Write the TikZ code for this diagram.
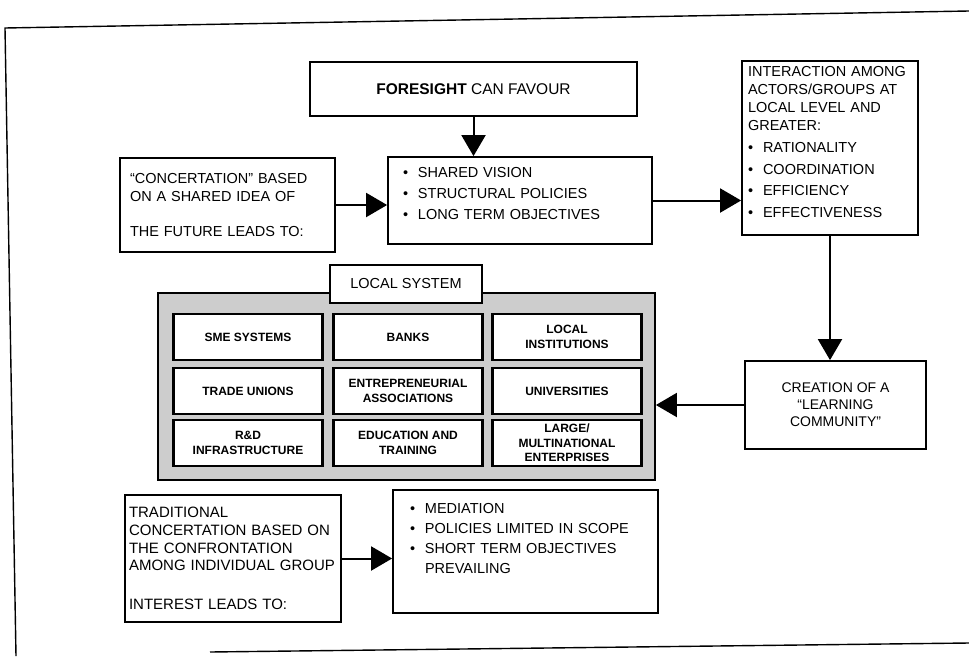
\documentclass[tikz,border=0pt]{standalone}
\usepackage{fontspec}
\setmainfont{Liberation Sans}
\usetikzlibrary{arrows.meta}
\definecolor{LocalGray}{RGB}{205,205,205}
\newcommand{\bitem}{\makebox[15pt][l]{\textbullet}}

\begin{document}
\begin{tikzpicture}[x=1pt, y=-1pt]
  \tikzstyle{box}=[draw, line width=1.8pt, fill=white, inner sep=0pt, font=\fontsize{14.5}{18}\selectfont];
  \tikzstyle{unit}=[draw, line width=2.6pt, fill=white, inner sep=0pt, minimum width=149pt, minimum height=46pt, align=center, font=\fontsize{12}{14.5}\selectfont\bfseries];
  \tikzstyle{arr}=[line width=2pt, -{Triangle[length=21pt, width=24pt]}];
  \tikzstyle{frame}=[line width=1.4pt];

  \useasboundingbox (0,0) rectangle (969,656);

  % page frame
  \draw[frame] (16,656) -- (5,28) -- (969,11);
  \draw[frame] (210,652) -- (969,643);

  \node[box, minimum width=327pt, minimum height=54pt, font=\fontsize{15.5}{18}\selectfont] (foresight) at (473.5,89) {\textbf{FORESIGHT} CAN FAVOUR};

  \node[box, minimum width=215pt, minimum height=94pt, inner xsep=10pt, text width=195pt, align=left, font=\fontsize{14.5}{17.5}\selectfont] (concert) at (227.5,205)
    {``CONCERTATION'' BASED\\ON A SHARED IDEA OF\\[17.5pt]THE FUTURE LEADS TO:};

  \node[box, minimum width=264pt, minimum height=87pt, inner xsep=15pt, text width=234pt, align=left, font=\fontsize{14.5}{21}\selectfont] (vision) at (520,200.5)
    {\bitem SHARED VISION\\\bitem STRUCTURAL POLICIES\\\bitem LONG TERM OBJECTIVES\rule[-14pt]{0pt}{0pt}};

  \node[box, minimum width=176pt, minimum height=174pt, inner xsep=6pt, text width=164pt, align=left] (interact) at (830,148)
    {INTERACTION AMONG\\ACTORS/GROUPS AT\\LOCAL LEVEL AND\\GREATER:\\[4pt]\bitem RATIONALITY\\[3.5pt]\bitem COORDINATION\\[3.5pt]\bitem EFFICIENCY\\[3.5pt]\bitem EFFECTIVENESS\rule[-12pt]{0pt}{0pt}};

  \node[box, minimum width=181pt, minimum height=88pt, align=center, font=\fontsize{14}{17}\selectfont] (learning) at (835.5,405)
    {CREATION OF A\\``LEARNING\\COMMUNITY''};

  % local system
  \node[draw, line width=1.8pt, fill=LocalGray, minimum width=497pt, minimum height=187pt] (local) at (406.5,386.5) {};
  \node[box, minimum width=152pt, minimum height=38pt] (localtitle) at (406,284) {LOCAL SYSTEM};

  \node[unit] (sme) at (248,337) {SME SYSTEMS};
  \node[unit] (banks) at (408,337) {BANKS};
  \node[unit] (instit) at (567,337) {LOCAL\\INSTITUTIONS};
  \node[unit] (unions) at (248,391) {TRADE UNIONS};
  \node[unit] (assoc) at (408,391) {ENTREPRENEURIAL\\ASSOCIATIONS};
  \node[unit] (univ) at (567,391) {UNIVERSITIES};
  \node[unit] (rnd) at (248,443) {R\&D\\INFRASTRUCTURE};
  \node[unit] (educ) at (408,443) {EDUCATION AND\\TRAINING};
  \node[unit] (large) at (567,443) {LARGE/\\MULTINATIONAL\\ENTERPRISES};

  \node[box, minimum width=216pt, minimum height=127pt, inner xsep=4pt, text width=208pt, align=left, font=\fontsize{15}{17.7}\selectfont] (tradit) at (233,558.5)
    {TRADITIONAL\\CONCERTATION BASED ON\\THE CONFRONTATION\\AMONG INDIVIDUAL GROUP\\[21pt]INTEREST LEADS TO:};

  \node[box, minimum width=265pt, minimum height=123pt, inner xsep=17pt, text width=231pt, align=left, font=\fontsize{14.5}{20}\selectfont] (mediation) at (525.5,551.5)
    {\bitem MEDIATION\\\bitem POLICIES LIMITED IN SCOPE\\\bitem SHORT TERM OBJECTIVES\\\hspace*{15pt}PREVAILING\rule[-26pt]{0pt}{0pt}};

  % connectors
  \draw[arr] (foresight.south) -- (foresight.south |- vision.north);
  \draw[arr] (concert.east) -- (concert.east -| vision.west);
  \draw[arr] (vision.east) -- (vision.east -| interact.west);
  \draw[arr] (interact.south) -- (interact.south |- learning.north);
  \draw[arr] (learning.west) -- (learning.west -| local.east);
  \draw[arr] (tradit.east) -- (tradit.east -| mediation.west);
\end{tikzpicture}
\end{document}
